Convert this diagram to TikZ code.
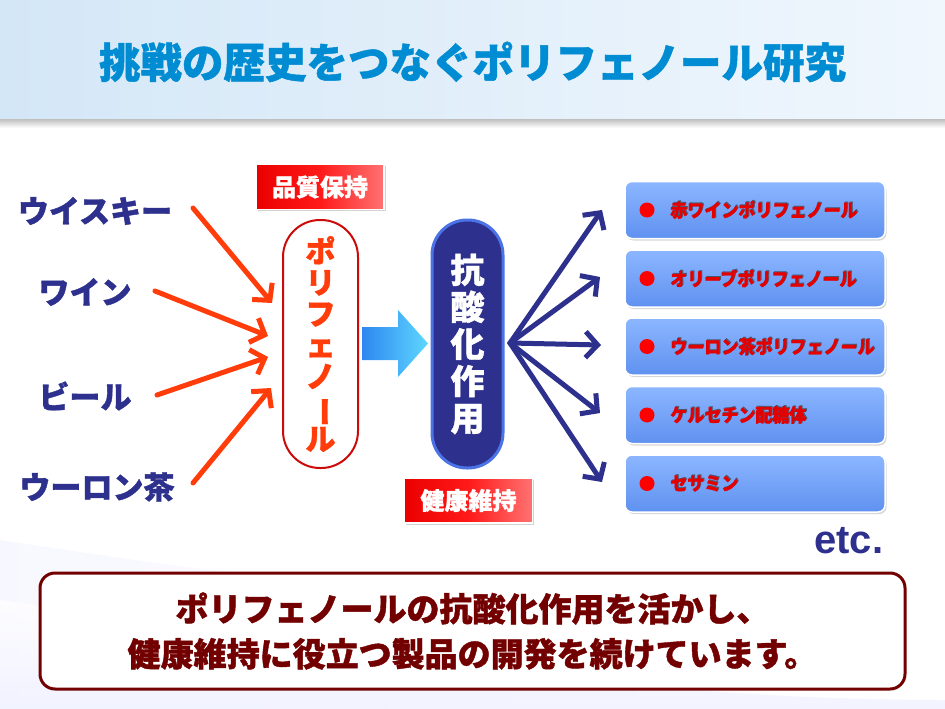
\documentclass[tikz,border=0pt]{standalone}
\usepackage{fontspec}
\setmainfont{Liberation Sans}
\newfontfamily\jp[BoldFeatures={FakeBold=1.2}]{Noto Sans CJK JP}
\usetikzlibrary{arrows.meta,shadows}
\definecolor{titleblue}{RGB}{0,140,210}
\definecolor{navy}{RGB}{45,48,140}
\definecolor{ored}{RGB}{255,60,10}
\definecolor{dred}{RGB}{115,0,0}
\definecolor{polyred}{RGB}{205,10,10}
\definecolor{boxA}{RGB}{140,182,255}
\definecolor{boxB}{RGB}{95,145,240}
\definecolor{capblue}{RGB}{75,115,230}
\tikzset{
  src/.style={font=\jp\bfseries\fontsize{31}{31}\selectfont, text=navy, inner sep=0pt},
  redarrow/.style={ored, line width=5pt, line cap=round, -{Straight Barb[length=12pt,width=26pt,line width=5pt]}},
  bluearrow/.style={navy, line width=5pt, line cap=round, -{Straight Barb[length=12pt,width=26pt,line width=5pt]}},
  tag/.style={minimum width=128pt, minimum height=45pt, inner sep=0pt, draw=white, line width=1.5pt,
    left color=red!92!black, right color=red!55!white, middle color=red!90!white,
    drop shadow={shadow xshift=1.5pt, shadow yshift=-1.5pt, opacity=0.35},
    text=white, font=\jp\bfseries\fontsize{24}{24}\selectfont},
  item/.style={minimum width=260pt, minimum height=57pt, rounded corners=7pt, draw=white, line width=1.5pt,
    top color=boxA, bottom color=boxB,
    drop shadow={shadow xshift=1.5pt, shadow yshift=-2pt, opacity=0.3}},
  itemtext/.style={anchor=west, inner sep=0pt, text=red!90!black, font=\jp\bfseries\fontsize{18.5}{18.5}\selectfont},
  bullet/.style={circle, fill=red, minimum size=15pt, inner sep=0pt}
}
\newcommand{\vbar}{\rotatebox[origin=c]{-90}{ー}}
\newcommand{\itm}[1]{\scalebox{0.92}[1]{#1}}
\begin{document}
\begin{tikzpicture}[x=1pt,y=-1pt]
\useasboundingbox (0,0) rectangle (945,709);
% background
\fill[white] (0,0) rectangle (945,709);
\shade[left color=blue!3!white, right color=white] (0,540) .. controls (200,570) and (500,620) .. (945,600) -- (945,709) -- (0,709) -- cycle;
\shade[top color=white, bottom color=cyan!8!blue!6!white, opacity=0.8] (0,600) .. controls (300,640) and (600,700) .. (945,700) -- (945,709) -- (0,709) -- cycle;
\shade[top color=black!28, bottom color=white] (0,118) rectangle (945,128);
\shade[left color={rgb,255:red,212;green,231;blue,247}, right color={rgb,255:red,240;green,247;blue,253}] (0,0) rectangle (945,118);
% title
\node[font=\jp\bfseries\fontsize{41.5}{41.5}\selectfont, text=titleblue, inner sep=0pt] (title) at (472.5,62) {挑戦の歴史をつなぐポリフェノール研究};

% sources
\node[src] (whisky) at (95,211) {ウイスキー};
\node[src] (wine) at (85,292) {ワイン};
\node[src] (beer) at (85,396) {ビール};
\node[src] (oolong) at (97,487) {ウーロン茶};

% polyphenol capsule
\node[draw=polyred, fill=white, line width=2pt, rounded corners=37pt, minimum width=75pt, minimum height=248pt, inner sep=0pt,
  align=center, text=ored, font=\jp\bfseries\fontsize{30}{31.3}\selectfont] (poly) at (320.5,344)
  {ポ\\リ\\フ\\ェ\\ノ\\\vbar\\ル};

% red arrows
\coordinate (w1) at (193,208);
\coordinate (w2) at (155,291);
\coordinate (w3) at (157,395);
\coordinate (w4) at (193,483);
\coordinate (p1) at (272,303);
\coordinate (p2) at (268,336);
\coordinate (p3) at (268,357);
\coordinate (p4) at (271,388);
\draw[redarrow] (w1) -- (p1);
\draw[redarrow] (w2) -- (p2);
\draw[redarrow] (w3) -- (p3);
\draw[redarrow] (w4) -- (p4);

% tags
\node[tag] (quality) at (320,187) {品質保持};
\node[tag] (health) at (468.5,500.5) {健康維持};

% big blue arrow
\shade[left color={rgb,255:red,45;green,135;blue,240}, right color={rgb,255:red,95;green,215;blue,255}]
  (362,327) -- (398,327) -- (398,310) -- (428,343.5) -- (398,377) -- (398,360) -- (362,360) -- cycle;

% antioxidation capsule
\node[draw=capblue, fill=navy, line width=3pt, rounded corners=35pt, minimum width=71pt, minimum height=248pt, inner sep=0pt,
  align=center, text=white, font=\jp\bfseries\fontsize{34}{37}\selectfont] (anti) at (467.5,344)
  {抗\\酸\\化\\作\\用};

% items
\node[item] (i1) at (755,210) {};
\node[item] (i2) at (755,278.5) {};
\node[item] (i3) at (755,346.5) {};
\node[item] (i4) at (755,415) {};
\node[item] (i5) at (755,483.5) {};
\foreach \n/\t in {1/赤ワインポリフェノール,2/オリーブポリフェノール,3/ウーロン茶ポリフェノール,4/ケルセチン配糖体,5/セサミン}{
  \node[bullet] (b\n) at ([xshift=-108pt]i\n.center) {};
  \node[itemtext, text=black!80, opacity=0.6] at ([xshift=-84pt,yshift=1pt]i\n.center) {\itm{\t}};
  \node[itemtext] (t\n) at ([xshift=-85pt,yshift=0pt]i\n.center) {\itm{\t}};
}

% blue arrows
\coordinate (hub) at (510,343);
\coordinate (e1) at (602,210);
\coordinate (e2) at (600,277);
\coordinate (e3) at (601,345);
\coordinate (e4) at (600,413);
\coordinate (e5) at (602,482);
\foreach \k in {1,...,5}{\draw[bluearrow] (hub) -- (e\k);}

% etc
\node[anchor=base west, inner sep=0pt, text=navy, font=\bfseries\fontsize{40}{40}\selectfont] (etc) at (814,553) {etc.};

% bottom message
\node[draw=dred, line width=3pt, fill=white, rounded corners=15pt, minimum width=865pt, minimum height=116pt, inner sep=0pt,
  align=center, text=dred, font=\jp\bfseries\fontsize{33}{45}\selectfont] (msg) at (472.5,631)
  {ポリフェノールの抗酸化作用を活かし、\\健康維持に役立つ製品の開発を続けています。};
\end{tikzpicture}
\end{document}
